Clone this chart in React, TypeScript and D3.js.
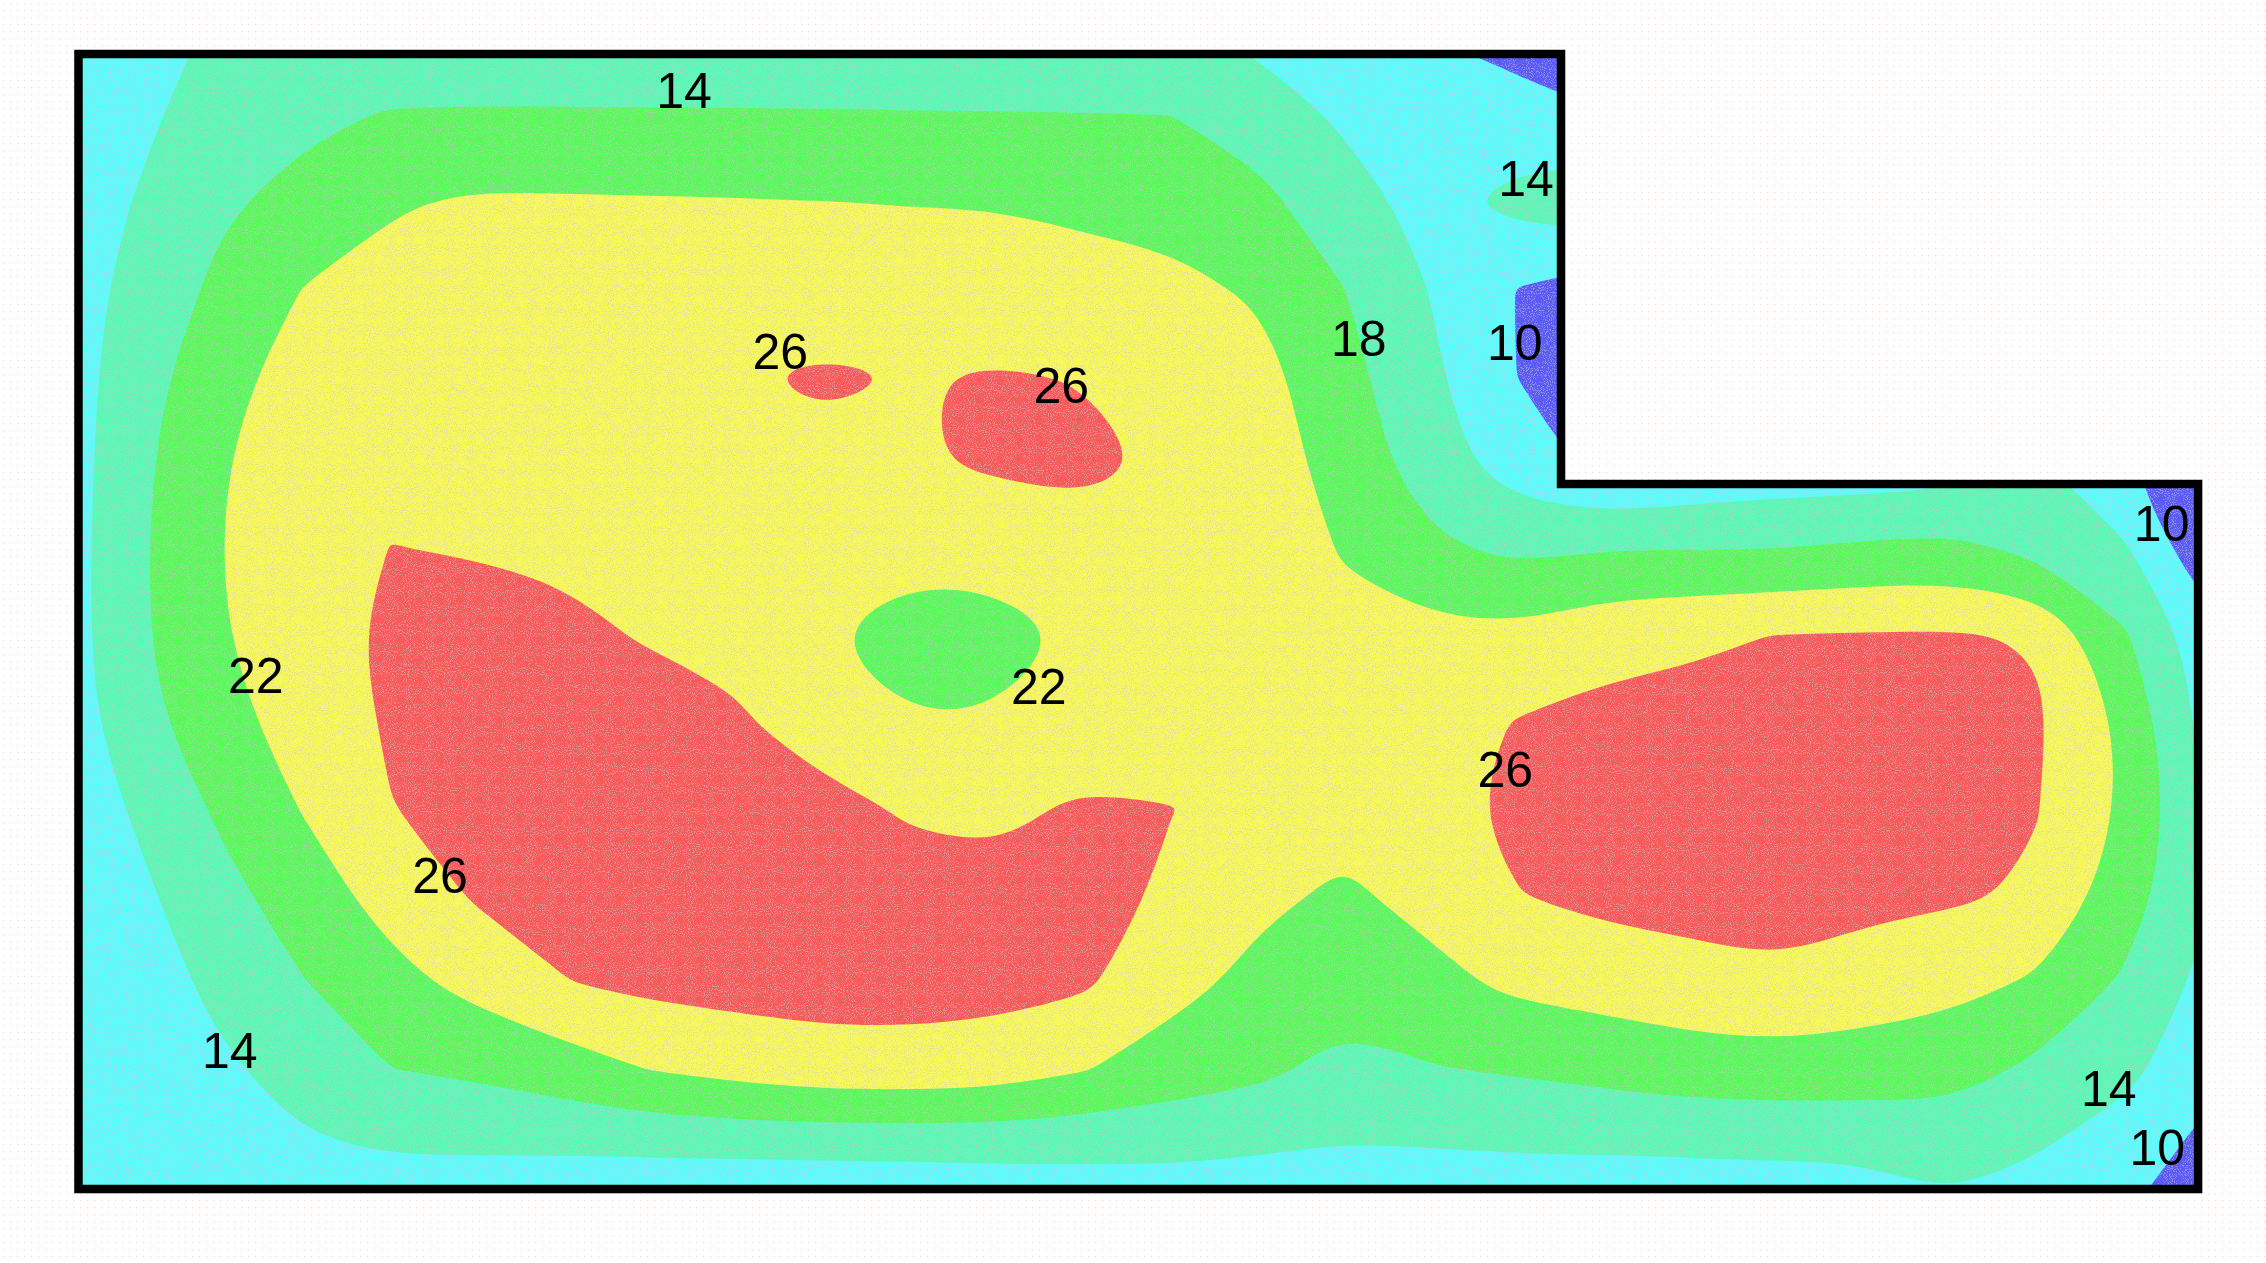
import React from 'react';
import * as d3 from 'd3';

const WIDTH = 2266;
const HEIGHT = 1263;

// Illuminance readings (lux) on a regular grid across the room, one array per grid row (top to bottom)
const row00 = [12.0, 12.5, 14.3, 14.6, 15.0, 15.0, 15.0, 15.0, 15.0, 15.0, 15.0, 15.0, 15.0, 15.0, 12.8, 12.3, 9.8, 8.3, 7.0, 7.0, 7.0, 7.0, 7.0, 7.0, 7.0, 6.0];
const row01 = [12.5, 13.3, 15.2, 17.1, 18.3, 18.35, 18.35, 18.3, 18.3, 18.25, 18.2, 18.15, 18.1, 18.02, 16.2, 13.4, 12.0, 11.5, 10.1, 10.5, 10.5, 10.5, 10.5, 10.5, 9.0, 7.0];
const row02 = [13.0, 13.95, 17.3, 19.4, 21.6, 22.5, 22.4, 22.3, 22.2, 22.05, 21.9, 21.8, 21.2, 20.6, 19.1, 15.55, 12.8, 15.3, 17.0, 12.0, 12.0, 12.0, 12.0, 12.0, 10.5, 7.0];
const row03 = [11.15, 14.95, 18.7, 22.1, 23.5, 24.0, 24.0, 23.9, 24.0, 23.9, 23.7, 24.0, 23.5, 23.0, 21.5, 18.05, 13.85, 9.85, 7.5, 10.5, 11.0, 11.0, 11.5, 11.5, 10.5, 7.0];
const row04 = [10.7, 15.9, 20.5, 23.8, 24.8, 25.0, 25.0, 24.9, 25.7, 26.5, 25.9, 26.2, 25.85, 25.0, 23.4, 19.4, 14.8, 9.95, 8.5, 10.5, 11.0, 11.0, 11.5, 12.0, 10.5, 6.5];
const row05 = [10.36, 16.6, 21.6, 24.3, 25.4, 25.4, 25.4, 25.3, 25.4, 25.3, 25.7, 26.6, 26.8, 25.6, 24.0, 20.4, 15.8, 11.8, 8.9, 10.3, 11.1, 11.3, 11.8, 14.3, 10.3, 6.0];
const row06 = [10.45, 16.9, 21.85, 24.25, 26.05, 25.85, 25.7, 25.5, 25.3, 23.0, 22.9, 23.2, 24.7, 25.0, 24.4, 21.7, 18.8, 17.1, 17.9, 17.95, 18.05, 18.7, 19.1, 17.0, 14.5, 6.3];
const row07 = [10.45, 16.9, 21.6, 24.3, 26.8, 27.0, 26.4, 25.85, 25.4, 22.05, 20.6, 20.8, 22.4, 24.6, 25.0, 23.0, 23.0, 22.9, 24.8, 25.4, 26.1, 26.3, 26.4, 25.7, 18.5, 11.6];
const row08 = [10.2, 16.2, 20.5, 23.75, 26.4, 27.3, 27.3, 26.8, 26.3, 24.6, 22.1, 22.25, 23.9, 25.3, 25.3, 24.5, 24.5, 26.2, 27.0, 27.2, 27.6, 27.8, 27.6, 26.5, 21.3, 12.0];
const row09 = [11.0, 14.15, 18.45, 22.2, 25.9, 27.2, 27.6, 27.5, 27.3, 26.9, 25.7, 25.3, 26.5, 26.05, 25.3, 23.2, 25.0, 26.8, 27.3, 27.6, 27.9, 27.8, 27.4, 26.1, 21.5, 13.6];
const row10 = [12.0, 12.8, 16.6, 20.05, 23.5, 26.4, 27.0, 27.5, 27.6, 27.6, 27.0, 27.0, 27.0, 25.6, 22.8, 21.4, 23.2, 25.9, 27.0, 27.3, 27.5, 27.0, 26.5, 25.6, 19.9, 14.2];
const row11 = [11.3, 11.85, 14.85, 17.85, 20.75, 23.3, 25.9, 27.0, 27.4, 27.6, 27.6, 27.3, 26.6, 23.3, 21.0, 19.6, 20.9, 22.9, 23.7, 24.6, 25.4, 24.1, 23.2, 21.5, 17.5, 12.7];
const row12 = [10.8, 11.3, 13.3, 15.45, 17.95, 18.7, 20.1, 22.1, 23.3, 24.3, 24.4, 24.0, 22.2, 20.2, 18.95, 16.8, 17.8, 18.4, 19.1, 20.0, 20.2, 20.1, 19.5, 17.2, 15.2, 10.8];
const row13 = [10.6, 11.0, 11.8, 13.5, 13.93, 13.95, 13.97, 14.03, 14.05, 14.08, 14.1, 14.15, 14.15, 14.15, 13.98, 13.5, 13.6, 13.85, 13.95, 14.04, 14.1, 14.15, 15.2, 13.9, 11.5, 8.8];
const row14 = [10.5, 10.8, 11.3, 12.3, 12.5, 12.5, 12.5, 12.5, 12.5, 12.5, 12.5, 12.5, 12.5, 12.5, 12.5, 12.3, 12.3, 12.3, 12.3, 12.3, 12.3, 12.3, 12.5, 12.0, 9.5, 8.5];

const illuminanceGrid = [row00, row01, row02, row03, row04, row05, row06, row07, row08, row09, row10, row11, row12, row13, row14];

// Contour levels and band colours (below 10, 10-14, 14-18, 18-22, 22-26, above 26)
const contourLevels = [10, 14, 18, 22, 26];
const bandFills = ['#5a5af8', '#5cfcfc', '#5af8b4', '#5af85a', '#f8f85a', '#f85a5a'];

// Contour value labels, placed in grid units (column, row)
const labelText = ['14', '14', '18', '10', '10', '26', '26', '22', '22', '26', '26', '14', '14', '10'];
const labelCol = [7.39, 17.1, 15.17, 16.97, 24.43, 8.5, 11.74, 2.45, 11.48, 16.86, 4.575, 2.15, 23.82, 24.38];
const labelRow = [0.705, 1.72, 3.565, 3.61, 5.7, 3.71, 4.11, 7.45, 7.58, 8.54, 9.76, 11.78, 12.21, 12.9];

// L-shaped room outline in grid units
const roomCol = [0.405, 17.503, 17.503, 24.85, 24.85, 0.405];
const roomRow = [0.29, 0.29, 5.248, 5.248, 13.38, 13.38];

export default function App() {
  const K = WIDTH / 1568;
  const nx = row00.length;
  const ny = illuminanceGrid.length;
  const x = d3.scaleLinear().domain([0, nx - 1]).range([30 * K, 1530 * K]);
  const y = d3.scaleLinear().domain([0, ny - 1]).range([20 * K, 860 * K]);

  const values = illuminanceGrid.flat();
  const bands = d3.contours().size([nx, ny]).thresholds(contourLevels)(values);

  const ringLine = d3
    .line<[number, number]>()
    .x((d) => x(d[0] - 0.5))
    .y((d) => y(d[1] - 0.5))
    .curve(d3.curveBasisClosed);

  const bandPath = (g: any) =>
    g.coordinates
      .map((poly: any) => poly.map((ring: any) => ringLine(ring.slice(0, -1)) || '').join(''))
      .join('');

  const roomLine = d3
    .line<number>()
    .x((i) => x(roomCol[i]))
    .y((i) => y(roomRow[i]));
  const roomPath = (roomLine(roomCol.map((_, i) => i)) || '') + 'Z';

  return (
    <svg
      width={WIDTH}
      height={HEIGHT}
      style={{ position: 'absolute', left: 0, top: 0, display: 'block', background: '#ffffff' }}
    >
      <defs>
        <clipPath id="room">
          <path d={roomPath} />
        </clipPath>
        <pattern id="dots" width={7} height={7} patternUnits="userSpaceOnUse">
          <rect x={3} y={3} width={1.2} height={1.2} fill="#f2c4b6" />
        </pattern>
        <filter id="speckle" x="0" y="0" width="100%" height="100%">
          <feTurbulence type="fractalNoise" baseFrequency="0.95" numOctaves={1} seed={7} result="n" />
          <feColorMatrix
            in="n"
            type="matrix"
            values="0 0 0 0 0.6  0 0 0 0 0.6  0 0 0 0 0.68  12 0 0 0 -6.4"
          />
        </filter>
      </defs>
      <rect width={WIDTH} height={HEIGHT} fill="url(#dots)" opacity={0.7} />
      <g clipPath="url(#room)">
        <path d={roomPath} fill={bandFills[0]} />
        {bands.map((b, i) => (
          <path key={i} d={bandPath(b)} fill={bandFills[i + 1]} fillRule="evenodd" />
        ))}
        <rect width={WIDTH} height={HEIGHT} filter="url(#speckle)" opacity={0.45} />
      </g>
      <path d={roomPath} fill="none" stroke="#000" strokeWidth={8.5} strokeLinejoin="miter" />
      {labelText.map((t, i) => (
        <text
          key={i}
          x={x(labelCol[i])}
          y={y(labelRow[i])}
          dy="0.36em"
          textAnchor="middle"
          fontFamily="'Liberation Sans', Arial, sans-serif"
          fontSize={50}
          fill="#000"
        >
          {t}
        </text>
      ))}
    </svg>
  );
}
